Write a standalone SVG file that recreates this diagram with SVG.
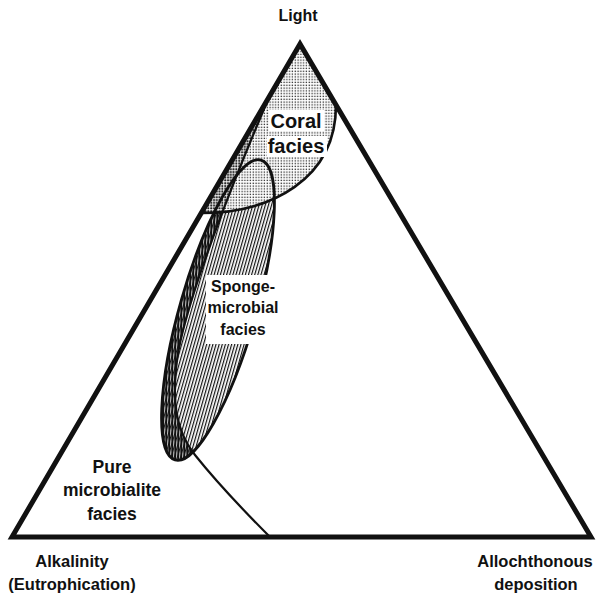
<svg xmlns="http://www.w3.org/2000/svg" width="596" height="596" viewBox="0 0 596 596">
<style>
.lbl{font-family:"Liberation Sans",Arial,sans-serif;font-weight:bold;fill:#111;text-anchor:middle}
.edge{fill:none;stroke:#111;stroke-linejoin:miter}
</style>
<defs>
<pattern id="hatch" width="3" height="4" patternUnits="userSpaceOnUse">
<rect x="1" y="0" width="1.2" height="4" fill="#111"/>
</pattern>
<pattern id="hatch2" width="3" height="4" patternUnits="userSpaceOnUse">
<rect x="0.3" y="0" width="2" height="4" fill="#111"/>
</pattern>
<pattern id="dots" width="2.8" height="2.8" patternUnits="userSpaceOnUse">
<rect x="0.6" y="0.6" width="1.3" height="1.3" fill="#222"/>
</pattern>
<pattern id="dots2" width="2.8" height="2.8" patternUnits="userSpaceOnUse">
<rect x="0.3" y="0.3" width="1.8" height="1.8" fill="#222"/>
</pattern>
<clipPath id="pureClip">
<path d="M270,95 C240,165 185,300 177,360 C172,400 175,430 195,455 C215,480 245,512 270,537 L12,537 L300,44 Z"/>
</clipPath>
<clipPath id="ellClip">
<ellipse cx="0" cy="0" rx="38" ry="156" transform="translate(218,310) rotate(16)"/>
</clipPath>
</defs>
<rect width="596" height="596" fill="#fff"/>

<g id="sponge-microbial">
<ellipse cx="0" cy="0" rx="38" ry="156" transform="translate(218,310) rotate(16)" fill="url(#hatch)"/>
<g clip-path="url(#ellClip)">
<rect x="140" y="150" width="140" height="330" fill="url(#hatch2)" clip-path="url(#pureClip)"/>
</g>
</g>

<g id="coral">
<path d="M300,44 L201,213 C270,213 336,180 336,105 Z" fill="#fff"/>
<path d="M300,44 L201,213 C270,213 336,180 336,105 Z" fill="url(#dots)"/>
<path d="M300,44 L201,213 C270,213 336,180 336,105 Z" fill="url(#dots2)" clip-path="url(#pureClip)"/>
</g>

<g id="connectors">
<ellipse cx="0" cy="0" rx="38" ry="156" transform="translate(218,310) rotate(16)" class="edge" stroke-width="2.8"/>
<path d="M201,213 C270,213 336,180 336,105" class="edge" stroke-width="2.6"/>
<path d="M270,95 C240,165 185,300 177,360 C172,400 175,430 195,455 C215,480 245,512 270,537" class="edge" stroke-width="2.2"/>
</g>

<g id="triangle">
<polygon points="300,44 12,537 591,537" class="edge" stroke-width="5"/>
</g>

<g id="coral-label">
<rect x="269" y="110" width="55" height="21" fill="#fff"/>
<rect x="267" y="136" width="60" height="21" fill="#fff"/>
<text class="lbl" x="296" y="128" font-size="20">Coral</text>
<text class="lbl" x="296" y="153" font-size="20">facies</text>
</g>
<g id="sponge-label">
<rect x="206" y="275" width="73" height="69" fill="#fff"/>
<text class="lbl" x="243" y="292" font-size="16">Sponge-</text>
<text class="lbl" x="243" y="313" font-size="16">microbial</text>
<text class="lbl" x="243" y="335" font-size="16">facies</text>
</g>
<g id="pure-label">
<text class="lbl" x="112" y="473" font-size="17.5">Pure</text>
<text class="lbl" x="112" y="496" font-size="17.5">microbialite</text>
<text class="lbl" x="112" y="520" font-size="17.5">facies</text>
</g>
<g id="vertex-labels">
<text class="lbl" x="298" y="21" font-size="16">Light</text>
<text class="lbl" x="72" y="567" font-size="16.5">Alkalinity</text>
<text class="lbl" x="72" y="590" font-size="16.5">(Eutrophication)</text>
<text class="lbl" x="535" y="567" font-size="16.5">Allochthonous</text>
<text class="lbl" x="536" y="590" font-size="16.5">deposition</text>
</g>
</svg>
